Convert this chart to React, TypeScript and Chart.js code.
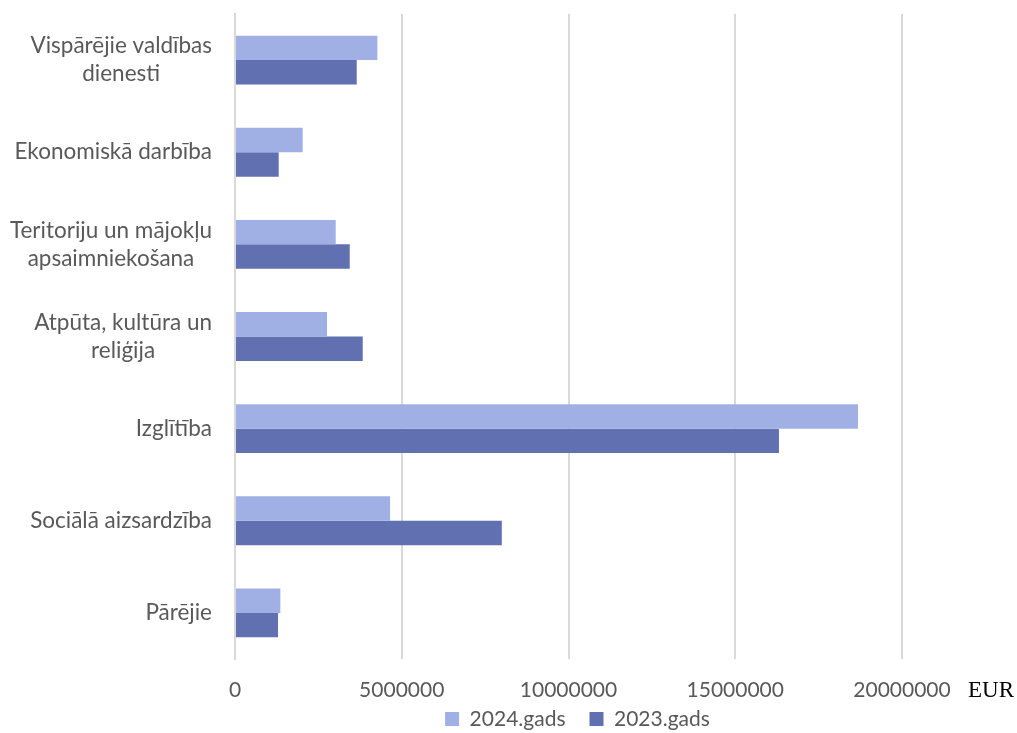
import React, { useEffect, useRef } from "react";
import { Chart, registerables } from "chart.js";

Chart.register(...registerables);

const categories: string[][] = [
  ["Vispārējie valdības", "dienesti"],
  ["Ekonomiskā darbība"],
  ["Teritoriju un mājokļu", "apsaimniekošana"],
  ["Atpūta, kultūra un", "reliģija"],
  ["Izglītība"],
  ["Sociālā aizsardzība"],
  ["Pārējie"],
];

const values2024: number[] = [4270000, 2030000, 3020000, 2760000, 18680000, 4650000, 1360000];
const values2023: number[] = [3650000, 1310000, 3440000, 3830000, 16310000, 8000000, 1290000];

const seriesLabels: string[] = ["2024.gads", "2023.gads"];
const xUnit = "EUR";
const xMin = 0;
const xMax = 20000000;
const xStep = 5000000;

const TEXT_COLOR = "#595959";
const GRID_COLOR = "#D9D9D9";
const COLOR_2024 = "#A0B0E4";
const COLOR_2023 = "#6070B0";
const FONT = "Lato";

const LEGEND_SHIFT_Y = -18.5;
const LEGEND_SHIFT_X = 9;

const yLabelPlugin = {
  id: "yLabelPlugin",
  afterLayout(chart: any) {
    const lg = chart.legend;
    if (lg) {
      lg.top += LEGEND_SHIFT_Y;
      lg.bottom = chart.height;
      lg.height = lg.bottom - lg.top;
      lg.left += LEGEND_SHIFT_X;
      lg.right += LEGEND_SHIFT_X;
    }
  },
  afterDraw(chart: any) {
    const ctx = chart.ctx as CanvasRenderingContext2D;
    const scale = chart.scales.y;
    const area = chart.chartArea;
    ctx.save();
    ctx.font = `22.5px ${FONT}`;
    ctx.fillStyle = TEXT_COLOR;
    ctx.textAlign = "center";
    ctx.textBaseline = "middle";
    const right = area.left - 23;
    const lineH = 28;
    categories.forEach((lines, i) => {
      const y = scale.getPixelForTick(i);
      const widest = Math.max(...lines.map((l) => ctx.measureText(l).width));
      const cx = right - widest / 2;
      const n = lines.length;
      lines.forEach((l, j) => {
        ctx.fillText(l, cx, y + (j - (n - 1) / 2) * lineH);
      });
    });
    ctx.font = `23px "Liberation Serif"`;
    ctx.fillStyle = "#000000";
    ctx.textAlign = "left";
    ctx.fillText(xUnit, area.right + 66, area.bottom + 32);
    ctx.restore();
  },
};

export default function App() {
  const ref = useRef<HTMLCanvasElement | null>(null);
  useEffect(() => {
    if (!ref.current) return;
    const chart = new Chart(ref.current, {
      type: "bar",
      data: {
        labels: categories,
        datasets: [
          {
            label: seriesLabels[0],
            data: values2024,
            backgroundColor: COLOR_2024,
            categoryPercentage: 0.53,
            barPercentage: 1,
          },
          {
            label: seriesLabels[1],
            data: values2023,
            backgroundColor: COLOR_2023,
            categoryPercentage: 0.53,
            barPercentage: 1,
          },
        ],
      },
      options: {
        indexAxis: "y",
        animation: false,
        responsive: false,
        maintainAspectRatio: false,
        layout: { padding: { top: 14, right: 115, bottom: 0, left: 0 } },
        scales: {
          x: {
            min: xMin,
            max: xMax,
            grid: { color: GRID_COLOR, lineWidth: 2, drawTicks: false },
            border: { display: false },
            ticks: {
              stepSize: xStep,
              autoSkip: false,
              color: TEXT_COLOR,
              font: { family: FONT, size: 21 },
              padding: 19,
              callback: (v: any) => String(v),
            },
            afterFit: (s: any) => {
              s.height = 44;
            },
          },
          y: {
            grid: { display: false, drawTicks: false },
            border: { display: true, color: GRID_COLOR, width: 2 },
            ticks: { display: false },
            afterFit: (s: any) => {
              s.width = 235;
            },
          },
        },
        plugins: {
          legend: {
            position: "bottom",
            fullSize: false,
            maxHeight: 30,
            labels: {
              boxWidth: 14,
              boxHeight: 14,
              padding: 24,
              color: TEXT_COLOR,
              font: { family: FONT, size: 21 },
            },
          },
          tooltip: { enabled: false },
        },
      },
      plugins: [yLabelPlugin],
    });
    return () => chart.destroy();
  }, []);
  return (
    <div style={{ position: "absolute", left: 0, top: 0, width: 1017, height: 733, background: "#fff" }}>
      <canvas ref={ref} width={1017} height={733} />
    </div>
  );
}
